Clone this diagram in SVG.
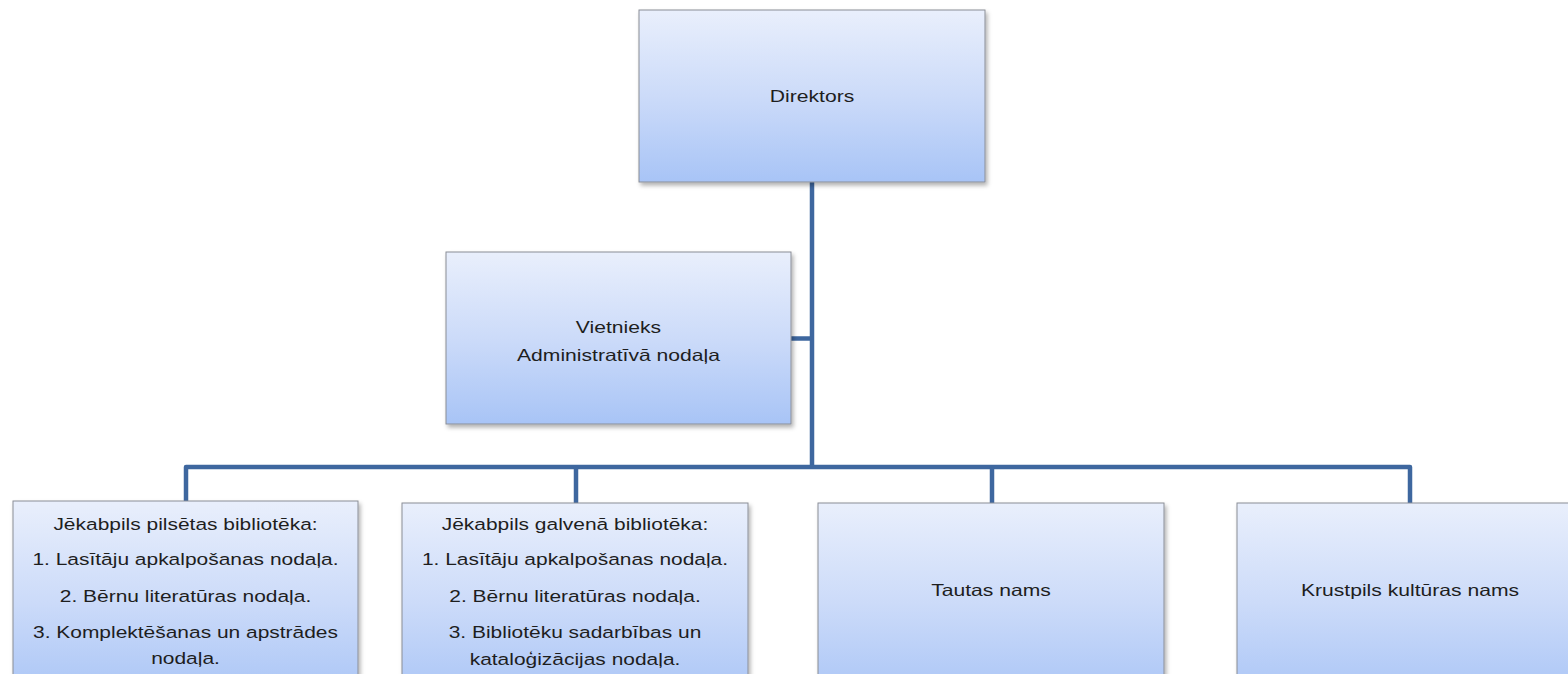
<svg xmlns="http://www.w3.org/2000/svg" width="1568" height="674" viewBox="0 0 1568 674">
  <defs>
    <linearGradient id="boxGrad" x1="0" y1="0" x2="0" y2="1">
      <stop offset="0" stop-color="#E9EFFC"/>
      <stop offset="0.5" stop-color="#CCDBF9"/>
      <stop offset="1" stop-color="#A8C4F6"/>
    </linearGradient>
    <filter id="shadow" x="-5%" y="-5%" width="115%" height="120%">
      <feDropShadow dx="2" dy="3" stdDeviation="2" flood-color="#000" flood-opacity="0.3"/>
    </filter>
    <style>
      .box { fill: url(#boxGrad); stroke: #8A8E96; stroke-width: 1; filter: url(#shadow); }
      .lbl { font-family: "Liberation Sans", Arial, sans-serif; font-size: 16.5px; fill: #1E1E1E; text-anchor: middle; }
      .conn { fill: none; stroke: #3E679F; stroke-width: 4.5; stroke-linejoin: round; }
    </style>
  </defs>
  <rect width="1568" height="674" fill="#FFFFFF"/>

  <g id="connectors">
    <path class="conn" d="M812,182 V467"/>
    <path class="conn" d="M791,338.5 H812"/>
    <path class="conn" d="M186,501 V467 H1410 V503"/>
    <path class="conn" d="M576,503 V467"/>
    <path class="conn" d="M992,503 V467"/>
  </g>

  <g id="node-direktors">
    <rect class="box" x="639" y="10" width="346" height="172"/>
    <g transform="translate(812 0) scale(1.28 1)">
      <text class="lbl" x="0" y="102">Direktors</text>
    </g>
  </g>

  <g id="node-vietnieks">
    <rect class="box" x="446" y="252" width="345" height="172"/>
    <g transform="translate(618.5 0) scale(1.28 1)">
      <text class="lbl" x="0" y="333">Vietnieks</text>
      <text class="lbl" x="0" y="361">Administratīvā nodaļa</text>
    </g>
  </g>

  <g id="node-pilsetas-biblioteka">
    <rect class="box" x="13" y="501" width="345" height="200"/>
    <g transform="translate(185.5 0) scale(1.27 1)">
      <text class="lbl" x="0" y="530">Jēkabpils pilsētas bibliotēka:</text>
      <text class="lbl" x="0" y="565">1. Lasītāju apkalpošanas nodaļa.</text>
      <text class="lbl" x="0" y="602">2. Bērnu literatūras nodaļa.</text>
      <text class="lbl" x="0" y="638">3. Komplektēšanas un apstrādes</text>
      <text class="lbl" x="0" y="664">nodaļa.</text>
    </g>
  </g>

  <g id="node-galvena-biblioteka">
    <rect class="box" x="402" y="503" width="346" height="200"/>
    <g transform="translate(575 0) scale(1.27 1)">
      <text class="lbl" x="0" y="530">Jēkabpils galvenā bibliotēka:</text>
      <text class="lbl" x="0" y="565">1. Lasītāju apkalpošanas nodaļa.</text>
      <text class="lbl" x="0" y="602">2. Bērnu literatūras nodaļa.</text>
      <text class="lbl" x="0" y="638">3. Bibliotēku sadarbības un</text>
      <text class="lbl" x="0" y="665">kataloģizācijas nodaļa.</text>
    </g>
  </g>

  <g id="node-tautas-nams">
    <rect class="box" x="818" y="503" width="346" height="200"/>
    <g transform="translate(991 0) scale(1.28 1)">
      <text class="lbl" x="0" y="596">Tautas nams</text>
    </g>
  </g>

  <g id="node-kulturas-nams">
    <rect class="box" x="1237" y="503" width="346" height="200"/>
    <g transform="translate(1410 0) scale(1.28 1)">
      <text class="lbl" x="0" y="596">Krustpils kultūras nams</text>
    </g>
  </g>
</svg>
